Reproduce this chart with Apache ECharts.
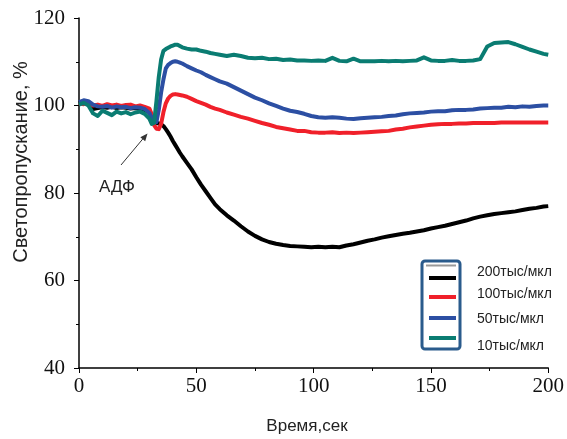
<!DOCTYPE html>
<html>
<head>
<meta charset="utf-8">
<script src="https://cdn.jsdelivr.net/npm/echarts@6/dist/echarts.min.js"></script>
<style>
html,body{margin:0;padding:0;background:#fff;}
#chart{width:567px;height:439px;}
</style>
</head>
<body>
<div id="chart"></div>
<script>
// Time, seconds
var time = [0,2,4,6,8,10,12,14,16,18,20,22,24,26,28,30,31,32,33,34,35,36,37,38,39,40,41,42,43,44,46,48,50,52,54,56,58,60,63,66,69,72,75,78,81,84,87,90,93,96,99,102,105,108,111,114,117,120,123,126,129,132,135,138,141,144,147,150,153,156,159,162,165,168,171,174,177,180,183,186,189,192,195,198,200];

// 200тыс/мкл
var s200 = [100.5,100.8,100.4,99.2,99.4,99.6,99.5,99.7,99.4,99.6,99.5,99.3,99.4,99.2,99.0,98.5,97.5,96.5,96.0,95.9,95.7,95.3,94.6,93.8,92.9,91.9,91.0,90.1,89.2,88.4,86.9,85.4,83.6,81.9,80.4,78.9,77.4,76.3,74.9,73.7,72.4,71.2,70.2,69.4,68.8,68.4,68.1,67.9,67.8,67.7,67.6,67.7,67.6,67.7,67.6,68.0,68.3,68.7,69.1,69.4,69.8,70.1,70.4,70.7,70.9,71.2,71.5,71.9,72.2,72.5,72.9,73.3,73.7,74.2,74.6,74.9,75.2,75.4,75.6,75.8,76.1,76.4,76.6,76.9,77.0];

// 100тыс/мкл
var s100 = [100.5,100.3,100.6,100.0,100.2,99.9,100.3,100.0,100.2,99.9,100.1,100.2,99.8,100.0,99.7,99.3,98.0,95.5,94.7,94.6,95.8,98.5,100.5,101.6,102.2,102.5,102.6,102.5,102.4,102.3,102.0,101.5,101.0,100.6,100.2,99.7,99.3,99.0,98.4,97.9,97.4,97.0,96.5,96.0,95.6,95.1,94.8,94.5,94.2,94.2,93.9,93.8,93.8,93.9,93.7,93.8,93.7,93.8,93.9,94.0,94.1,94.2,94.5,94.7,95.0,95.2,95.4,95.6,95.7,95.8,95.8,95.9,95.9,96.0,96.0,96.0,96.0,96.1,96.1,96.1,96.1,96.1,96.1,96.1,96.1];

// 50тыс/мкл
var s50 = [100.8,101.2,101.0,100.2,99.8,99.7,99.9,99.5,99.8,99.6,99.7,99.4,99.6,99.5,99.2,98.3,97.2,96.4,96.2,99.0,103.0,106.0,108.5,109.3,109.7,110.0,110.1,110.0,109.8,109.6,109.0,108.5,108.0,107.6,107.0,106.5,106.0,105.5,105.0,104.2,103.4,102.6,101.8,101.2,100.5,99.9,99.3,98.8,98.5,98.1,97.6,97.3,97.2,97.3,97.2,97.0,96.9,97.1,97.2,97.3,97.4,97.6,97.7,98.0,98.2,98.3,98.4,98.6,98.7,98.7,98.9,99.0,99.0,99.1,99.3,99.4,99.5,99.5,99.7,99.6,99.8,99.7,99.9,100.0,100.0];

// 10тыс/мкл
var s10 = [100.2,100.6,100.0,98.2,97.6,98.8,98.3,97.8,98.6,98.2,98.5,98.0,98.4,98.6,98.1,97.0,95.8,96.0,101.0,106.5,110.5,112.5,112.9,113.2,113.5,113.7,113.9,113.9,113.6,113.3,113.0,112.8,112.8,112.5,112.3,112.0,111.8,111.6,111.3,111.6,111.3,110.9,110.8,110.9,110.6,110.7,110.4,110.5,110.3,110.3,110.2,110.3,110.2,110.9,110.2,110.1,110.7,110.1,110.1,110.1,110.2,110.1,110.2,110.1,110.2,110.3,111.0,110.3,110.2,110.2,110.4,110.2,110.2,110.3,110.6,113.5,114.3,114.4,114.5,114.0,113.4,112.8,112.3,111.8,111.6];

var seriesNames = ['200тыс/мкл','100тыс/мкл','50тыс/мкл','10тыс/мкл'];
var xTicks = [0,50,100,150,200];
var yTicks = [40,60,80,100,120];

var colors = ['#000000','#f0202a','#2c4fa3','#0a7c72'];
var allData = [s200,s100,s50,s10];

function pairs(arr){ return time.map(function(t,i){ return [t, arr[i]]; }); }

var chart = echarts.init(document.getElementById('chart'), null, {renderer:'canvas'});

var series = allData.map(function(d,i){
  return {
    name: seriesNames[i], type:'line', data: pairs(d), showSymbol:false, symbol:'none',
    lineStyle:{color:colors[i], width:4, join:'round'}, z: 2+i, animation:false
  };
});

var legendY = [278,297,318,338];
var legendTextY = [272,294,319,346];
var graphics = [
  {type:'rect', shape:{x:422,y:261,width:38,height:88,r:3}, style:{fill:'#fff', stroke:'#2a5b8c', lineWidth:3}, z:100},
  {type:'line', shape:{x1:426,y1:265.5,x2:456,y2:265.5}, style:{stroke:'#999', lineWidth:2}, z:101}
];
seriesNames.forEach(function(n,i){
  graphics.push({type:'line', shape:{x1:429,y1:legendY[i],x2:456,y2:legendY[i]}, style:{stroke:colors[i], lineWidth:4}, z:101});
  graphics.push({type:'text', x:477, y:legendTextY[i], style:{text:n, font:'14px "Liberation Sans", Arial, sans-serif', fill:'#222', textVerticalAlign:'middle', textAlign:'left'}, z:101});
});
// annotation
graphics.push({type:'line', shape:{x1:121,y1:165,x2:144,y2:137.5}, style:{stroke:'#333', lineWidth:1}, z:100});
graphics.push({type:'polygon', shape:{points:[[147.5,133.5],[145.2,141.3],[140.3,137.3]]}, style:{fill:'#333'}, z:100});
graphics.push({type:'text', x:117, y:187, style:{text:'АДФ', font:'17px "Liberation Sans", Arial, sans-serif', fill:'#222', textAlign:'center', textVerticalAlign:'middle'}, z:100});
// axis titles
graphics.push({type:'text', x:21, y:162, rotation:Math.PI/2, style:{text:'Светопропускание, %', font:'20px "Liberation Sans", Arial, sans-serif', fill:'#222', textAlign:'center', textVerticalAlign:'middle'}, z:100});
graphics.push({type:'text', x:307, y:426, style:{text:'Время,сек', font:'17px "Liberation Sans", Arial, sans-serif', fill:'#222', textAlign:'center', textVerticalAlign:'middle'}, z:100});

chart.setOption({
  animation:false,
  backgroundColor:'#fff',
  grid:{left:79, right:18, top:18, bottom:71, containLabel:false},
  xAxis:{
    type:'value', min:xTicks[0], max:xTicks[xTicks.length-1], interval:50,
    axisLine:{show:true, onZero:false, lineStyle:{color:'#000', width:1.5}},
    axisTick:{show:true, inside:false, length:5, lineStyle:{color:'#000', width:1}},
    minorTick:{show:true, splitNumber:2, length:3, lineStyle:{color:'#000', width:1}},
    splitLine:{show:false},
    axisLabel:{margin:8, color:'#111', fontFamily:'"Liberation Serif", "Times New Roman", serif', fontSize:21}
  },
  yAxis:{
    type:'value', min:yTicks[0], max:yTicks[yTicks.length-1], interval:20,
    axisLine:{show:true, onZero:false, lineStyle:{color:'#000', width:1.5}},
    axisTick:{show:true, inside:false, length:5, lineStyle:{color:'#000', width:1}},
    minorTick:{show:true, splitNumber:2, length:3, lineStyle:{color:'#000', width:1}},
    splitLine:{show:false},
    axisLabel:{margin:14, color:'#111', fontFamily:'"Liberation Serif", "Times New Roman", serif', fontSize:21}
  },
  series: series,
  graphic: graphics
});
</script>
</body>
</html>
